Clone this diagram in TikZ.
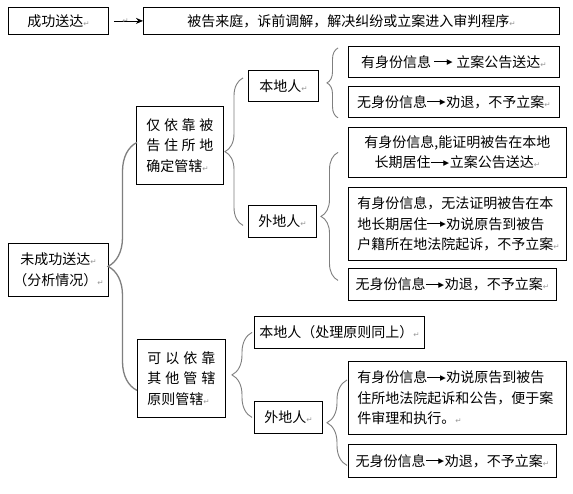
\documentclass[tikz,border=0pt]{standalone}
\usepackage{fontspec}
\setmainfont{Noto Sans CJK SC}
\newfontfamily\fuhao{DejaVu Sans}
\usepackage{xcolor}
\usepackage{tikz}
\usetikzlibrary{arrows.meta,calc,decorations.pathreplacing}
\definecolor{xian}{HTML}{000000}
\definecolor{kuo}{HTML}{7F7F7F}
\definecolor{huanhang}{HTML}{9A9A9A}
% paragraph mark and the little arrow inside the texts
\newcommand\hc{{\fuhao\color{huanhang}\fontsize{7.5}{7.5}\selectfont ↵}}
\newcommand\jt{\raisebox{0.36em}{\rule{1em}{0.8pt}}\kern-0.1em%
  \raisebox{2.3pt}{\fuhao\fontsize{7.5}{7.5}\selectfont ▶}\kern0.05em}
\tikzset{
  kuang/.style  ={draw=xian,line width=0.8pt,inner sep=0pt,anchor=north west,
                  align=center,font=\fontsize{14}{20.5}\selectfont},
  duohang/.style={kuang,align=left,inner xsep=#1},
  kuohao/.style ={draw=kuo,line width=0.9pt,decorate,
                  decoration={brace,amplitude=#1,aspect=0.5}},
  flow/.style   ={-{Stealth[length=7pt,width=6pt]},line width=0.8pt,draw=xian}
}
\begin{document}
\begin{tikzpicture}[x=1pt,y=-1pt]
  \fill[white] (0,0) rectangle (573,493);
  % top row
  \node[kuang,minimum width=100pt,minimum height=27pt] (cg) at (8,7) {成功送达\hc};
  \node[kuang,minimum width=416pt,minimum height=27pt] (jg) at (143,7)
    {被告来庭，诉前调解，解决纠纷或立案进入审判程序\hc};
  \draw[flow] ([xshift=5pt]cg.east) -- node[pos=0.4,inner sep=0pt,yshift=-0.5pt]{\hc} (jg.west);
  % left column
  \node[kuang,minimum width=100pt,minimum height=53pt] (wcg) at (8,243)
    {未成功送达\hc\\（分析情况）\hc};
  \node[duohang=10pt,text width=67pt,minimum height=78pt] (zs) at (136,106)
    {仅\hfill 依\hfill 靠\hfill 被\\告\hfill 住\hfill 所\hfill 地\\确定管辖\hc};
  \node[duohang=10pt,text width=68pt,minimum height=78pt] (qt) at (137,339)
    {可\hfill 以\hfill 依\hfill 靠\\其\hfill 他\hfill 管\hfill 辖\\原则管辖\hc};
  % middle column
  \node[kuang,minimum width=70pt,minimum height=31pt] (bd1) at (248,70) {本地人\hc};
  \node[kuang,minimum width=68pt,minimum height=32pt] (wd1) at (248,205) {外地人\hc};
  \node[kuang,minimum width=170pt,minimum height=32pt] (bd2) at (254,316) {本地人（处理原则同上）\hc};
  \node[kuang,minimum width=68pt,minimum height=32pt] (wd2) at (254,401) {外地人\hc};
  % right column
  \node[kuang,minimum width=211pt,minimum height=31pt] (a1) at (348,46)
    {有身份信息 \jt\ 立案公告送达\hc};
  \node[kuang,minimum width=211pt,minimum height=31pt] (a2) at (348,86)
    {无身份信息\jt 劝退，不予立案\hc};
  \node[kuang,text width=204pt,inner xsep=7pt,minimum height=50pt] (b1) at (348,127)
    {有身份信息,能证明被告在本地\\长期居住\jt 立案公告送达\hc};
  \node[duohang=9pt,text width=200pt,minimum height=73pt] (b2) at (348,187)
    {有身份信息，无法证明被告在本\\地长期居住\jt 劝说原告到被告\\户籍所在地法院起诉，不予立案\hc};
  \node[kuang,minimum width=208pt,minimum height=32pt] (b3) at (348,268)
    {无身份信息\jt 劝退，不予立案\hc};
  \node[duohang=9pt,text width=200pt,minimum height=73pt] (c1) at (348,361)
    {有身份信息\jt 劝说原告到被告\\住所地法院起诉和公告，便于案\\件审理和执行。\hc};
  \node[kuang,minimum width=208pt,minimum height=33pt] (c2) at (348,444)
    {无身份信息\jt 劝退，不予立案\hc};
  % braces
  \coordinate (k1s) at ([xshift=1pt,yshift=3pt]zs.west);
  \coordinate (k1x) at ([yshift=-12pt]qt.west);
  \draw[kuohao=29pt,line width=1.3pt] (k1x) -- (k1s);
  \coordinate (k2s) at ([xshift=-5pt,yshift=8pt]bd1.west);
  \coordinate (k2x) at ([xshift=-5pt,yshift=-4pt]wd1.west);
  \draw[kuohao=18pt] (k2x) -- (k2s);
  \coordinate (k3s) at ([xshift=-10pt,yshift=-2pt]a1.north west);
  \coordinate (k3x) at ([xshift=-10pt]a2.south west);
  \draw[kuohao=11pt] (k3x) -- (k3s);
  \coordinate (k4s) at ([xshift=-10pt]b1.west);
  \coordinate (k4x) at ([xshift=-10pt,yshift=4pt]b3.west);
  \draw[kuohao=17pt] (k4x) -- (k4s);
  \coordinate (k5s) at ([xshift=-2pt]bd2.west);
  \coordinate (k5x) at ([xshift=-2pt]wd2.west);
  \draw[kuohao=20pt] (k5x) -- (k5s);
  \coordinate (k6s) at ([xshift=-1pt,yshift=-19pt]c1.north west);
  \coordinate (k6x) at ([xshift=-1pt,yshift=-4.5pt]c2.west);
  \draw[kuohao=20pt] (k6x) -- (k6s);
\end{tikzpicture}
\end{document}
